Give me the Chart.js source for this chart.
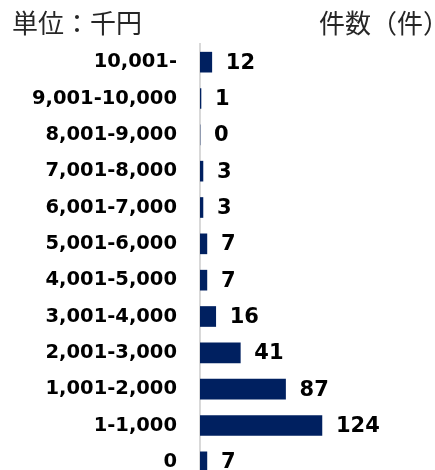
<!DOCTYPE html>
<html>
<head>
<meta charset="utf-8">
<script src="https://cdn.jsdelivr.net/npm/chart.js@4/dist/chart.umd.min.js"></script>
<style>
  html, body { margin: 0; padding: 0; width: 435px; height: 470px; overflow: hidden; background: #fff; }
  #wrap { position: absolute; left: 0; top: 0; width: 435px; height: 480px; }
  .hdr { position: absolute; top: 9px; font-family: "Noto Sans CJK JP", sans-serif; font-size: 26px; line-height: 26px; color: #262626; white-space: nowrap; }
  #unit { left: 12px; }
  #count { left: 319px; }
</style>
</head>
<body>
<div id="wrap"><canvas id="c" width="435" height="480"></canvas></div>
<div class="hdr" id="unit">単位：千円</div>
<div class="hdr" id="count">件数（件）</div>
<script>
const categories = ['10,001-', '9,001-10,000', '8,001-9,000', '7,001-8,000', '6,001-7,000', '5,001-6,000', '4,001-5,000', '3,001-4,000', '2,001-3,000', '1,001-2,000', '1-1,000', '0'];
const counts = [12, 1, 0, 3, 3, 7, 7, 16, 41, 87, 124, 7];

const valueLabels = {
  id: 'valueLabels',
  afterDatasetsDraw(chart) {
    const ctx = chart.ctx;
    const meta = chart.getDatasetMeta(0);
    ctx.save();
    ctx.font = 'bold 21px "DejaVu Sans"';
    ctx.fillStyle = '#000';
    ctx.textAlign = 'left';
    ctx.textBaseline = 'middle';
    meta.data.forEach((el, i) => {
      ctx.fillText(String(counts[i]), el.x + 14, el.y + 1);
    });
    ctx.restore();
  }
};

new Chart(document.getElementById('c'), {
  type: 'bar',
  data: {
    labels: categories,
    datasets: [{
      data: counts,
      backgroundColor: '#002060',
      borderWidth: 0,
      barThickness: 20
    }]
  },
  options: {
    indexAxis: 'y',
    responsive: false,
    animation: false,
    layout: { padding: { top: 44, right: 0, bottom: 0, left: 0 } },
    plugins: { legend: { display: false }, tooltip: { enabled: false }, title: { display: false } },
    scales: {
      x: {
        display: false, min: 0, max: 239,
        afterFit(scale) { scale.height = 0; }
      },
      y: {
        afterFit(scale) {
          scale.width = 200;
          scale.paddingTop = 0;
          scale.paddingBottom = 0;
        },
        grid: { display: false, drawTicks: false },
        border: { display: true, color: '#d9d9d9', width: 2 },
        ticks: {
          padding: 23,
          color: '#000',
          font: { family: 'DejaVu Sans', weight: 'bold', size: 19.5 }
        }
      }
    }
  },
  plugins: [valueLabels]
});
</script>
</body>
</html>
